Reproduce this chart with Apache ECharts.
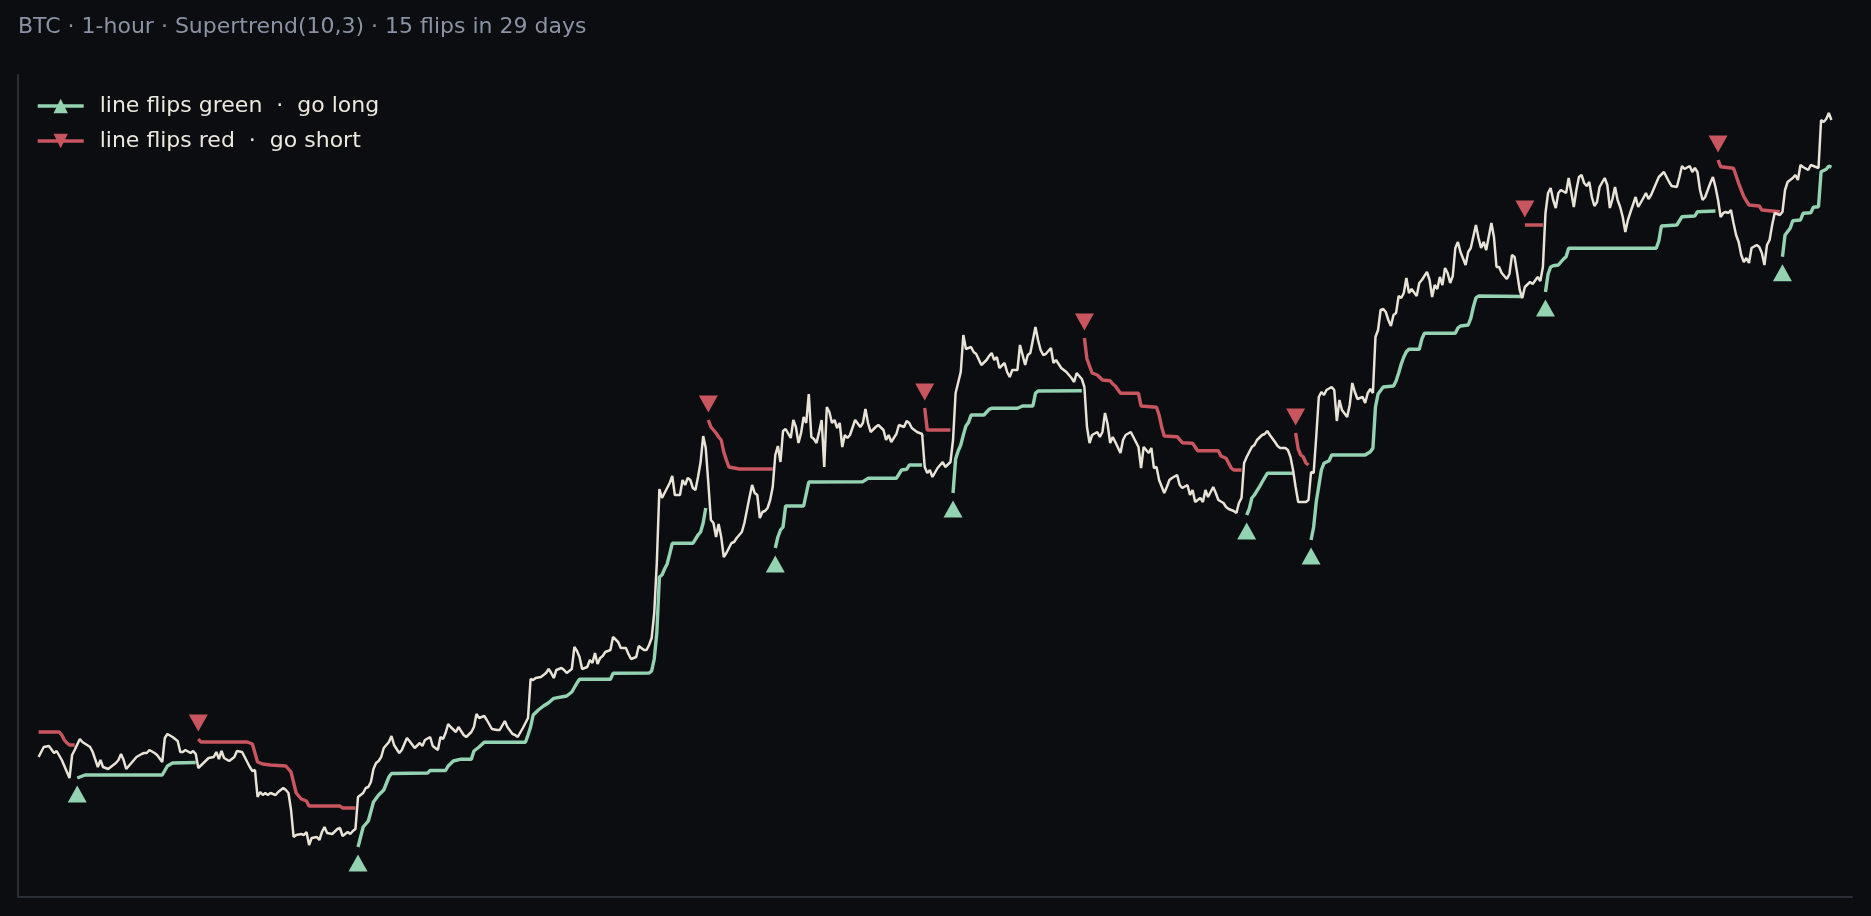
<!DOCTYPE html>
<html>
<head>
<meta charset="utf-8">
<script src="https://cdn.jsdelivr.net/npm/echarts@6.0.0/dist/echarts.min.js"></script>
<style>
html,body{margin:0;padding:0;background:#0b0d10;}
#chart{width:1871px;height:916px;}
</style>
</head>
<body>
<div id="chart"></div>
<script>
const chartTitle = 'BTC · 1-hour · Supertrend(10,3) · 15 flips in 29 days';
const longLabel = 'line flips green  ·  go long';
const shortLabel = 'line flips red  ·  go short';

// [hour, close]
const price = [[0,61400],[2,61500],[4,61510],[6,61440],[7,61460],[9,61370],[10,61310],[12,61190],[13,61420],[14,61470],[16,61580],[17,61550],[20,61500],[21,61450],[23,61300],[24,61370],[25,61300],[27,61280],[30,61340],[31,61370],[32,61430],[33,61370],[34,61280],[36,61340],[38,61400],[40,61430],[41,61440],[42,61440],[43,61470],[45,61440],[46,61420],[48,61350],[49,61590],[50,61630],[52,61600],[54,61560],[55,61450],[56,61450],[57,61470],[59,61440],[60,61460],[61,61430],[62,61290],[64,61340],[66,61390],[68,61400],[69,61450],[70,61380],[71,61460],[72,61390],[74,61360],[76,61400],[77,61460],[79,61450],[80,61400],[82,61300],[83,61260],[84,61270],[85,61000],[86,61050],[87,61020],[88,61040],[89,61020],[90,61040],[92,61020],[93,61050],[95,61090],[96,61070],[97,61040],[98,60870],[99,60600],[100,60620],[102,60630],[103,60620],[104,60650],[105,60520],[106,60590],[108,60600],[109,60570],[110,60650],[111,60700],[112,60640],[114,60630],[116,60680],[117,60690],[118,60610],[120,60650],[121,60630],[122,60660],[123,60680],[124,61000],[126,61040],[127,61090],[128,61100],[129,61150],[130,61280],[131,61340],[132,61360],[133,61400],[134,61490],[136,61550],[137,61610],[138,61520],[140,61440],[141,61470],[143,61590],[144,61560],[146,61490],[148,61540],[149,61510],[150,61570],[152,61600],[153,61510],[155,61470],[156,61600],[157,61580],[158,61640],[159,61730],[160,61700],[162,61650],[163,61700],[165,61620],[166,61600],[168,61650],[169,61700],[170,61830],[171,61790],[172,61800],[173,61810],[174,61770],[176,61680],[178,61670],[179,61670],[181,61760],[182,61700],[184,61630],[185,61620],[186,61600],[188,61690],[190,61790],[191,62180],[192,62170],[193,62190],[195,62200],[197,62240],[198,62280],[199,62240],[200,62190],[201,62270],[203,62290],[204,62270],[205,62240],[207,62280],[208,62500],[209,62460],[210,62400],[211,62280],[213,62300],[214,62370],[215,62340],[216,62440],[217,62330],[218,62390],[219,62410],[220,62450],[222,62470],[223,62600],[225,62550],[226,62490],[228,62490],[229,62430],[230,62380],[232,62400],[233,62510],[235,62470],[236,62470],[237,62520],[238,62590],[239,62840],[240,63340],[241,64080],[242,63990],[243,64040],[245,64140],[246,64210],[247,64020],[249,64020],[250,64170],[251,64120],[252,64190],[253,64170],[254,64090],[255,64070],[256,64200],[257,64350],[258,64610],[259,64490],[260,64140],[261,63770],[262,63740],[263,63600],[264,63730],[265,63600],[266,63400],[267,63440],[268,63490],[269,63540],[270,63550],[271,63590],[273,63650],[274,63740],[276,64000],[277,64120],[278,64040],[279,64020],[280,63790],[281,63850],[282,63860],[283,63890],[284,63970],[285,64100],[286,64420],[287,64510],[288,64350],[289,64660],[290,64680],[292,64590],[293,64770],[294,64700],[295,64540],[296,64640],[297,64800],[298,64740],[299,65030],[300,64600],[301,64580],[302,64540],[303,64650],[304,64770],[305,64300],[306,64900],[307,64850],[308,64740],[309,64770],[310,64690],[311,64740],[312,64500],[313,64620],[314,64590],[315,64620],[317,64770],[319,64700],[320,64740],[321,64880],[322,64740],[323,64650],[325,64700],[326,64720],[328,64670],[329,64570],[330,64620],[331,64550],[333,64630],[334,64720],[336,64700],[337,64760],[338,64740],[339,64690],[341,64650],[342,64640],[343,64630],[344,64300],[345,64240],[346,64270],[347,64200],[349,64290],[351,64350],[352,64300],[354,64350],[355,64570],[356,65040],[358,65250],[359,65620],[360,65480],[362,65500],[363,65450],[364,65430],[366,65320],[368,65370],[369,65410],[370,65440],[371,65370],[372,65400],[373,65290],[375,65340],[376,65250],[377,65200],[378,65270],[380,65270],[381,65520],[382,65420],[383,65320],[384,65420],[385,65440],[387,65700],[388,65570],[389,65470],[390,65420],[391,65430],[393,65490],[394,65340],[395,65370],[397,65290],[399,65250],[401,65190],[402,65150],[403,65240],[404,65210],[405,65180],[406,65100],[407,64700],[408,64540],[409,64620],[411,64650],[412,64600],[413,64650],[414,64840],[415,64730],[416,64540],[417,64600],[418,64550],[420,64440],[421,64570],[422,64620],[424,64650],[425,64600],[427,64500],[428,64290],[429,64500],[431,64440],[432,64490],[433,64290],[434,64300],[435,64170],[437,64040],[438,64100],[439,64170],[440,64190],[442,64220],[443,64120],[444,64090],[446,64120],[447,64020],[448,64070],[449,63950],[451,63990],[452,63950],[453,64070],[454,64000],[456,64100],[457,64040],[458,63970],[460,63940],[461,63900],[462,63880],[464,63860],[465,63840],[466,63940],[467,63990],[468,64340],[469,64400],[471,64500],[472,64520],[473,64570],[475,64620],[476,64630],[477,64660],[478,64620],[480,64550],[481,64510],[482,64490],[484,64490],[485,64470],[486,64400],[487,64270],[488,64100],[489,63950],[490,63950],[492,63950],[493,63970],[494,64250],[495,64240],[496,64600],[497,65000],[498,65050],[499,65020],[500,65070],[502,65100],[503,65070],[504,64760],[505,64970],[506,64870],[508,64800],[509,64920],[510,65140],[511,65050],[512,64980],[514,65000],[515,64940],[516,65040],[517,65080],[518,65040],[519,65600],[520,65670],[521,65870],[522,65880],[523,65850],[524,65770],[525,65710],[526,65820],[527,65840],[528,66010],[529,65990],[530,66040],[531,66190],[532,66040],[533,66080],[535,66010],[536,66140],[537,66170],[539,66250],[540,66170],[541,66000],[542,66120],[543,66080],[544,66200],[545,66120],[546,66290],[547,66240],[548,66140],[549,66210],[550,66490],[551,66550],[552,66450],[554,66320],[555,66450],[556,66490],[558,66720],[559,66590],[560,66490],[561,66550],[562,66470],[564,66740],[565,66600],[566,66300],[567,66300],[568,66240],[570,66180],[571,66230],[572,66420],[573,66400],[574,66240],[575,66070],[576,65990],[577,66100],[579,66150],[580,66130],[582,66200],[583,66160],[584,66300],[585,66840],[586,67040],[587,67090],[588,66970],[589,66890],[590,67040],[591,67070],[593,67040],[594,67190],[595,67050],[596,66900],[597,67070],[598,67200],[599,67220],[600,67140],[601,67110],[602,67150],[603,67000],[604,66910],[605,66950],[606,67100],[608,67190],[609,67120],[610,66890],[611,66980],[612,67100],[613,66970],[614,66900],[615,66800],[616,66650],[617,66770],[618,66850],[620,67000],[621,66900],[623,66990],[624,67040],[625,66980],[626,67020],[628,67140],[629,67200],[631,67250],[632,67200],[633,67150],[634,67110],[636,67100],[637,67200],[638,67310],[639,67280],[641,67310],[642,67250],[643,67290],[644,67250],[645,67070],[646,66970],[647,67000],[649,67140],[650,67200],[651,67100],[652,66970],[653,66800],[654,66840],[655,66850],[656,66840],[657,66870],[658,66740],[659,66620],[660,66550],[661,66420],[662,66350],[663,66390],[664,66340],[665,66490],[667,66520],[668,66500],[669,66440],[670,66320],[671,66520],[672,66570],[673,66720],[674,66840],[676,66820],[677,66850],[678,67070],[679,67150],[681,67190],[682,67220],[683,67170],[684,67320],[685,67300],[687,67270],[688,67320],[690,67300],[691,67290],[692,67770],[693,67750],[694,67780],[695,67840],[696,67770]];

// supertrend while long (green); null = line breaks at a flip
const greenBand = [[15,61190],[16,61200],[18,61220],[48,61220],[50,61310],[52,61340],[61,61345],null,
[124,60500],[125,60600],[126,60700],[128,60760],[130,60950],[132,61020],[134,61070],[136,61200],[137,61235],[151,61240],[152,61265],[158,61265],[159,61310],[161,61360],[164,61378],[168,61378],[169,61460],[171,61500],[173,61547],[189,61547],[190,61620],[191,61700],[192,61820],[194,61870],[196,61910],[198,61943],[200,61987],[205,62010],[207,62050],[209,62140],[210,62177],[222,62177],[223,62237],[237,62240],[238,62260],[239,62380],[240,62640],[241,63200],[242,63220],[243,63280],[244,63330],[245,63430],[246,63537],[254,63537],[256,63620],[257,63650],[258,63740],[259,63890],null,
[286,63490],[287,63600],[288,63670],[289,63700],[290,63910],[297,63910],[298,64030],[299,64150],[320,64153],[322,64187],[333,64187],[335,64270],[337,64277],[338,64320],[343,64320],null,
[355,64040],[356,64380],[357,64460],[358,64520],[359,64620],[360,64710],[361,64745],[362,64820],[367,64820],[369,64877],[370,64887],[380,64887],[382,64910],[386,64910],[387,65037],[388,65060],[405,65063],null,
[469,63820],[470,63880],[471,63990],[472,64020],[474,64103],[475,64150],[477,64237],[487,64237],null,
[494,63570],[495,63700],[496,63950],[498,64270],[499,64337],[501,64363],[502,64420],[515,64420],[517,64453],[518,64487],[519,64900],[520,65030],[522,65100],[526,65110],[527,65160],[528,65240],[529,65330],[530,65400],[531,65453],[532,65477],[536,65477],[537,65580],[538,65637],[550,65637],[551,65690],[552,65710],[555,65720],[556,65787],[557,65900],[558,65990],[559,66010],[576,66005],null,
[585,66050],[586,66230],[587,66300],[588,66312],[590,66320],[592,66380],[593,66403],[594,66487],[628,66487],[629,66560],[630,66710],[636,66720],[638,66803],[643,66810],[644,66853],[651,66860],null,
[677,66403],[678,66620],[680,66687],[681,66763],[684,66770],[685,66837],[688,66843],[689,66897],[691,66903],[692,67253],[694,67277],[695,67310],[696,67297]];

// supertrend while short (red)
const redBand = [[0,61650],[8,61650],[9,61620],[10,61570],[11,61540],[12,61520],[14,61520],null,
[62,61580],[63,61550],[81,61550],[83,61530],[85,61350],[87,61330],[90,61320],[96,61310],[98,61250],[100,61040],[102,60980],[104,60960],[105,60910],[117,60910],[118,60890],[123,60890],null,
[260,64770],[261,64700],[263,64640],[264,64600],[265,64570],[266,64450],[267,64370],[268,64300],[272,64280],[285,64280],null,
[344,64890],[345,64670],[354,64670],null,
[406,65590],[407,65380],[409,65240],[411,65220],[413,65170],[416,65163],[417,65130],[418,65110],[420,65037],[427,65037],[428,64910],[434,64897],[435,64820],[436,64700],[437,64610],[442,64603],[444,64543],[448,64537],[450,64463],[458,64463],[459,64410],[461,64387],[463,64290],[464,64270],[467,64270],null,
[488,64640],[489,64480],[490,64420],[491,64400],[492,64340],[493,64320],null,
[577,66720],[584,66720],null,
[652,67370],[653,67303],[658,67287],[660,67137],[662,67003],[664,66920],[668,66910],[669,66870],[676,66853]];

const longFlips = [15,124,286,355,469,494,585,677];
const shortFlips = [62,260,344,406,488,577,652];

const GREEN = '#94d3b1', RED = '#c9565f', PRICE = '#e8e3d6';

function lineData(arr){ return arr.map(p => p === null ? ['-','-'] : p); }
function flipMarks(arr, flips){
  return flips.map(h => { const p = arr.find(q => q && q[0] === h); return [h, p[1]]; });
}

const chart = echarts.init(document.getElementById('chart'));
const hiddenAxis = {
  axisLine:{show:true, onZero:false, lineStyle:{color:'#2a2e35', width:2}},
  axisTick:{show:false}, axisLabel:{show:false}, splitLine:{show:false}
};
chart.setOption({
  backgroundColor:'#0b0d10',
  animation:false,
  title:{
    text: chartTitle, left:18, top:16, padding:0,
    textStyle:{color:'#8a92a4', fontSize:22, fontWeight:'normal', fontFamily:'DejaVu Sans'}
  },
  legend:{
    data:[longLabel, shortLabel], orient:'vertical', left:36, top:95, padding:0,
    itemGap:13, itemWidth:46, itemHeight:18, selectedMode:false,
    lineStyle:{width:3.4},
    itemStyle:{opacity:1},
    textStyle:{color:'#ece8dd', fontSize:22, fontFamily:'DejaVu Sans', padding:[0,0,0,11]}
  },
  tooltip:{show:false},
  grid:{left:18, right:19, top:75, bottom:19, outerBoundsMode:'none', containLabel:false},
  xAxis:Object.assign({type:'value', min:-8, max:704}, hiddenAxis),
  yAxis:Object.assign({type:'value', min:60000, max:68220, scale:true}, hiddenAxis),
  series:[
    {name:longLabel, type:'line', data:lineData(greenBand), symbol:'triangle', showSymbol:false,
     connectNulls:false, silent:true, lineStyle:{color:GREEN, width:3.4}, itemStyle:{color:GREEN, opacity:1}, z:2},
    {name:shortLabel, type:'line', data:lineData(redBand), symbol:'triangle', symbolRotate:180, showSymbol:false,
     connectNulls:false, silent:true, lineStyle:{color:RED, width:3.4}, itemStyle:{color:RED, opacity:1}, z:2},
    {name:'BTC', type:'line', data:price, symbol:'none', showSymbol:false, silent:true,
     lineStyle:{color:PRICE, width:2.5}, itemStyle:{color:PRICE}, z:3},
    {name:'long flips', type:'scatter', data:flipMarks(greenBand, longFlips), symbol:'triangle',
     symbolSize:[19,17], symbolOffset:[0,16], silent:true, itemStyle:{color:GREEN, opacity:1}, z:4},
    {name:'short flips', type:'scatter', data:flipMarks(redBand, shortFlips), symbol:'triangle',
     symbolRotate:180, symbolSize:[19,17], symbolOffset:[0,-16], silent:true, itemStyle:{color:RED, opacity:1}, z:4}
  ]
});
</script>
</body>
</html>
